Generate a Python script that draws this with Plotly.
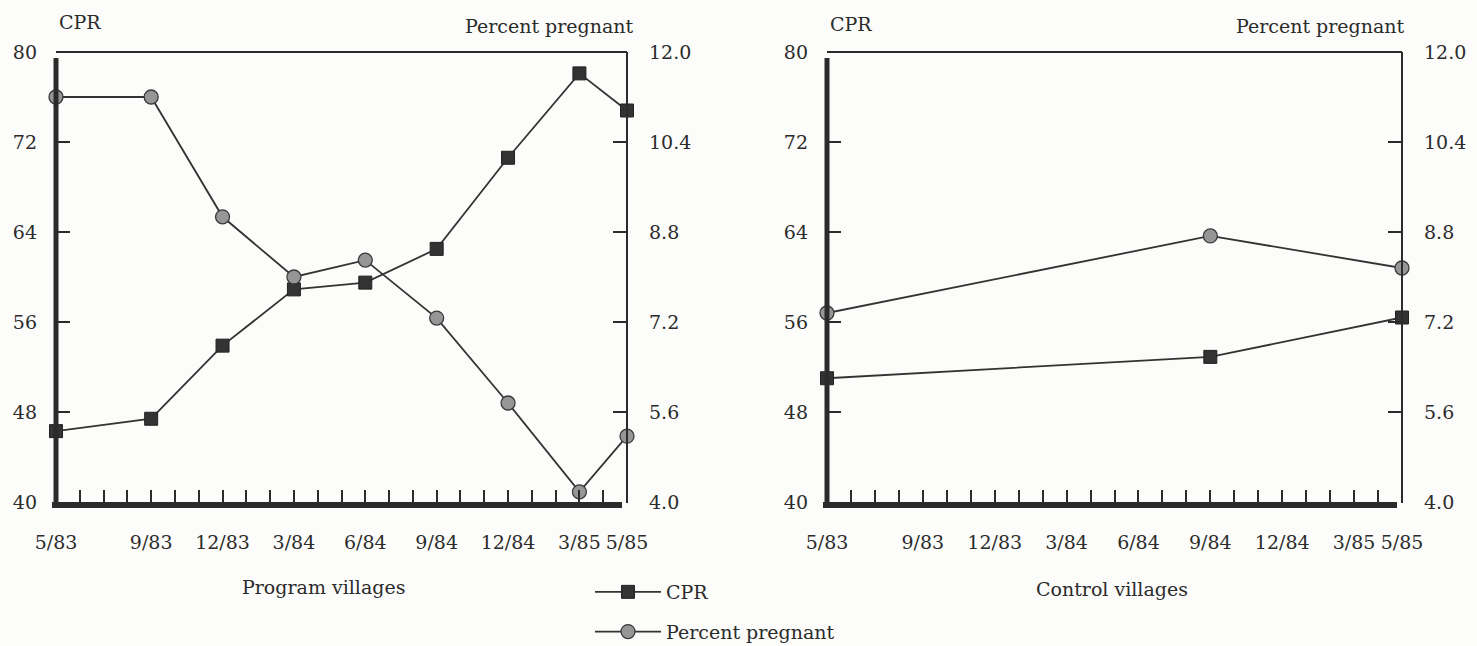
import plotly.graph_objects as go

W, H = 1477, 646

# ---------------- data ----------------
x_tick_months = [0, 4, 7, 10, 13, 16, 19, 22, 24]
x_tick_labels = ["5/83", "9/83", "12/83", "3/84", "6/84", "9/84", "12/84", "3/85", "5/85"]
all_months = list(range(25))

program_months = [0, 4, 7, 10, 13, 16, 19, 22, 24]
program_cpr = [46.3, 47.4, 53.9, 58.9, 59.5, 62.5, 70.6, 78.1, 74.8]
program_pregnant = [11.2, 11.2, 9.07, 8.0, 8.3, 7.27, 5.76, 4.18, 5.17]

control_months = [0, 16, 24]
control_cpr = [51.0, 52.9, 56.4]
control_pregnant = [7.36, 8.73, 8.16]

cpr_ticks = [40, 48, 56, 64, 72, 80]
pregnant_ticks = [4.0, 5.6, 7.2, 8.8, 10.4, 12.0]

# ---------------- style ----------------
FONT = "DejaVu Serif"
INK = "#2b2b2b"
BG = "#fcfcfa"
FS = 19

def px(x):
    return x / W

def py(y):
    return 1 - y / H

left_dom = [px(56), px(627)]
right_dom = [px(827), px(1402)]
y_dom = [py(502), py(52)]

ticktext_all = [x_tick_labels[x_tick_months.index(m)] if m in x_tick_months else "" for m in all_months]

fig = go.Figure()

cpr_marker = dict(symbol="square", size=13, color="#333333", line=dict(color="#222222", width=1))
preg_marker = dict(symbol="circle", size=14, color="#969696", line=dict(color="#3a3a3a", width=1.3))
line_style = dict(color="#333333", width=1.8)

fig.add_trace(go.Scatter(x=program_months, y=program_cpr, mode="lines+markers", name="CPR",
                         marker=cpr_marker, line=line_style, xaxis="x", yaxis="y",
                         cliponaxis=False, legendgroup="a"))
fig.add_trace(go.Scatter(x=program_months, y=program_pregnant, mode="lines+markers", name="Percent pregnant",
                         marker=preg_marker, line=line_style, xaxis="x", yaxis="y2",
                         cliponaxis=False, legendgroup="b"))
fig.add_trace(go.Scatter(x=control_months, y=control_cpr, mode="lines+markers", name="CPR",
                         marker=cpr_marker, line=line_style, xaxis="x2", yaxis="y3",
                         cliponaxis=False, showlegend=False))
fig.add_trace(go.Scatter(x=control_months, y=control_pregnant, mode="lines+markers", name="Percent pregnant",
                         marker=preg_marker, line=line_style, xaxis="x2", yaxis="y4",
                         cliponaxis=False, showlegend=False))

xcommon = dict(range=[0, 24], tickvals=all_months, ticktext=ticktext_all, ticks="inside",
               ticklen=12, tickwidth=2, tickcolor=INK, showgrid=False, zeroline=False,
               showline=False, tickfont=dict(family=FONT, size=FS, color=INK),
               ticklabelstandoff=27, fixedrange=True, automargin=False)
ycpr = dict(range=[40, 80], tickvals=cpr_ticks, ticks="inside", ticklen=14, tickwidth=2,
            tickcolor=INK, showgrid=False, zeroline=False, showline=False,
            tickfont=dict(family=FONT, size=FS, color=INK), ticklabelstandoff=18,
            domain=y_dom, fixedrange=True, automargin=False)
ypreg = dict(range=[4, 12], tickvals=pregnant_ticks, tickformat=".1f", ticks="inside", ticklen=14,
             tickwidth=2, tickcolor=INK, showgrid=False, zeroline=False, showline=False,
             tickfont=dict(family=FONT, size=FS, color=INK), ticklabelstandoff=21,
             side="right", fixedrange=True, automargin=False)

fig.update_layout(
    template="none",
    width=W, height=H, margin=dict(l=0, r=0, t=0, b=0, pad=0, autoexpand=False),
    paper_bgcolor=BG, plot_bgcolor=BG,
    font=dict(family=FONT, size=FS, color=INK),
    xaxis=dict(domain=left_dom, anchor="y", **xcommon),
    xaxis2=dict(domain=right_dom, anchor="y3", **xcommon),
    yaxis=dict(anchor="x", **ycpr),
    yaxis2=dict(anchor="x", overlaying="y", **ypreg),
    yaxis3=dict(anchor="x2", **ycpr),
    yaxis4=dict(anchor="x2", overlaying="y3", **ypreg),
    showlegend=True,
    legend=dict(x=px(590), y=py(573), xanchor="left", yanchor="top",
                bgcolor="rgba(0,0,0,0)", font=dict(family=FONT, size=FS, color=INK),
                traceorder="grouped", tracegroupgap=12, itemwidth=66),
)

shapes = []
for xr, yr in [("x domain", "y domain"), ("x2 domain", "y3 domain")]:
    # thick left axis
    shapes.append(dict(type="line", xref=xr, yref=yr, x0=0, x1=0, y0=-6 / 450, y1=1 - 6 / 450,
                       line=dict(color=INK, width=5)))
    # thick bottom axis
    shapes.append(dict(type="line", xref=xr, yref=yr, x0=-4 / 575, x1=1 - 5 / 575, y0=-3 / 450, y1=-3 / 450,
                       line=dict(color=INK, width=6)))
    # thin top
    shapes.append(dict(type="line", xref=xr, yref=yr, x0=0, x1=1, y0=1, y1=1,
                       line=dict(color=INK, width=2)))
    # thin right
    shapes.append(dict(type="line", xref=xr, yref=yr, x0=1, x1=1, y0=-1 / 450, y1=1,
                       line=dict(color=INK, width=2)))
fig.update_layout(shapes=shapes)

def ann(text, x, y):
    return dict(text=text, x=px(x), y=py(y), xref="paper", yref="paper", showarrow=False,
                xanchor="center", yanchor="middle", font=dict(family=FONT, size=FS, color=INK))

fig.update_layout(annotations=[
    ann("CPR", 80, 22),
    ann("Percent pregnant", 549, 26),
    ann("Program villages", 323, 587),
    ann("CPR", 851, 24),
    ann("Percent pregnant", 1320, 26),
    ann("Control villages", 1112, 589),
])

fig.write_html("out.html")
